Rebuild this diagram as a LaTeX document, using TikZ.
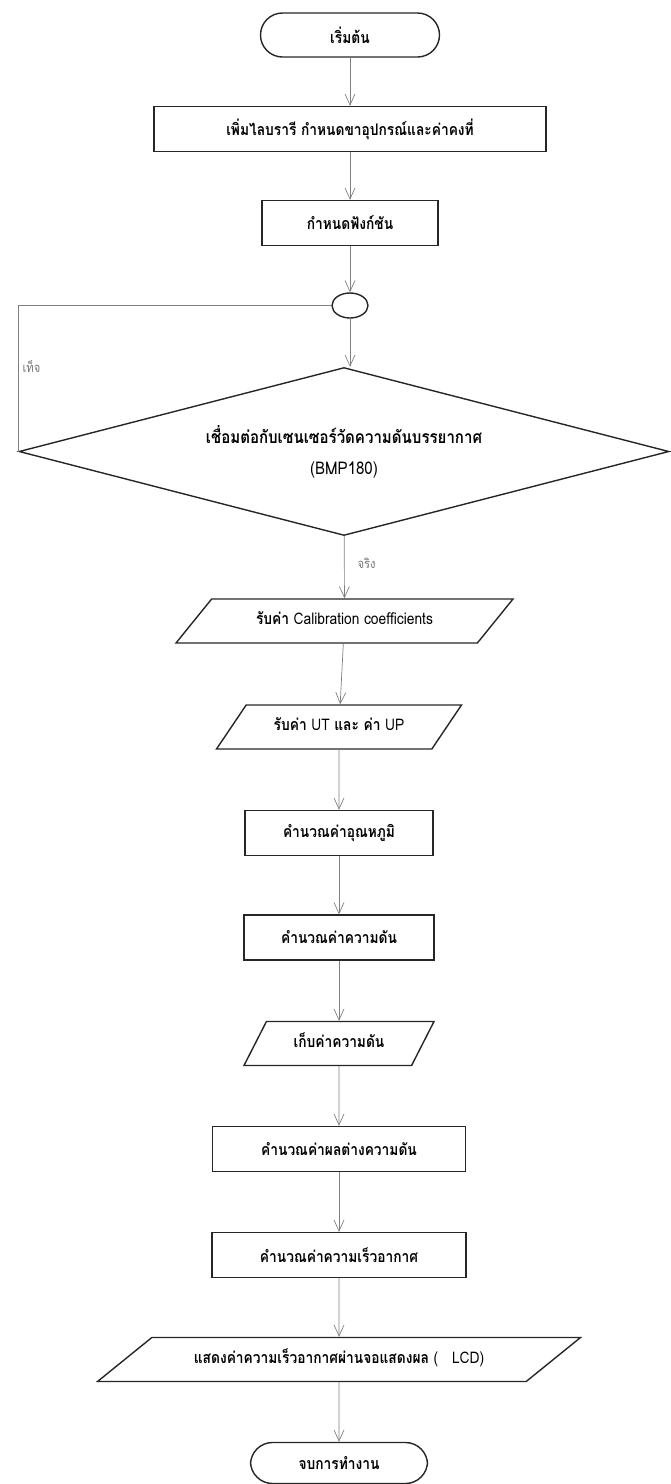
\documentclass[tikz,border=0pt]{standalone}
\usepackage{fontspec}
\newfontfamily\thaifont[Script=Thai,FakeStretch=0.86]{Loma}
\usetikzlibrary{shapes.geometric,arrows.meta}

\begin{document}
\begin{tikzpicture}[x=1pt,y=-1pt]
	\tikzstyle{terminal}=[rectangle,rounded corners=22pt,draw=black!85,line width=1.4pt,inner sep=0pt,minimum height=44pt,font=\thaifont\bfseries\fontsize{16}{19}\selectfont]
	\tikzstyle{process}=[rectangle,draw=black!85,line width=1.4pt,inner sep=0pt,minimum height=45pt,font=\thaifont\bfseries\fontsize{16}{19}\selectfont]
	\tikzstyle{io}=[trapezium,trapezium stretches body,draw=black!85,line width=1.4pt,inner xsep=0pt,inner ysep=14.5pt,text height=11pt,text depth=4pt,font=\thaifont\fontsize{16}{19}\selectfont]
	\tikzstyle{decision}=[diamond,aspect=3.87,draw=black!85,line width=1.4pt,inner sep=0pt,align=center,font=\thaifont\fontsize{17.5}{31}\selectfont]
	\tikzstyle{joint}=[ellipse,draw=black!85,line width=1.4pt,inner sep=0pt,minimum width=36pt,minimum height=25pt]
	\tikzstyle{arrowline}=[draw=black!50,line width=0.7pt,-{Straight Barb[length=11pt,width=10pt]}]
	\tikzstyle{loopline}=[draw=black!50,line width=0.7pt]
	\tikzstyle{answer}=[font=\thaifont\fontsize{13}{15}\selectfont,text=black!55,inner sep=0pt]
	\useasboundingbox (0,0) rectangle (671,1484);
	\begin{scope}
		\node [terminal,minimum width=179pt] (start) at (350,35) {เริ่มต้น};
		\node [process,minimum width=392pt] (setup) at (350,129) {เพิ่มไลบรารี กำหนดขาอุปกรณ์และค่าคงที่};
		\node [process,minimum width=176pt] (funcdef) at (350,223) {กำหนดฟังก์ชัน};
		\node [joint] (joint) at (350,305.5) {};
		\node [decision,minimum width=650pt,minimum height=168pt] (cond) at (344,451.5) {\bfseries เชื่อมต่อกับเซนเซอร์วัดความดันบรรยากาศ\\(BMP180)};
		\node [io,trapezium left angle=51,trapezium right angle=129,minimum width=337pt] (calib) at (344.5,621) {{\bfseries รับค่า} Calibration coefficients};
		\node [io,trapezium left angle=56,trapezium right angle=124,minimum width=245pt] (rawval) at (339,727) {{\bfseries รับค่า} UT {\bfseries และ ค่า} UP};
		\node [process,minimum width=188pt] (calctemp) at (339,833) {คำนวณค่าอุณหภูมิ};
		\node [process,minimum width=190pt] (calcpress) at (339,937.5) {คำนวณค่าความดัน};
		\node [io,trapezium left angle=63,trapezium right angle=117,minimum width=190pt] (store) at (339,1043.5) {\bfseries เก็บค่าความดัน};
		\node [process,minimum width=253pt] (calcdiff) at (339,1149) {คำนวณค่าผลต่างความดัน};
		\node [process,minimum width=254pt] (calcspeed) at (339,1255) {คำนวณค่าความเร็วอากาศ};
		\node [io,trapezium left angle=39,trapezium right angle=141,minimum width=483pt] (display) at (339,1359.5) {{\bfseries แสดงค่าความเร็วอากาศผ่านจอแสดงผล} (\ \ \ LCD)};
		\node [terminal,minimum width=177pt,minimum height=41pt] (finish) at (339,1463) {จบการทำงาน};
		\path[arrowline] (start) edge (setup);
		\path[arrowline] (setup) edge (funcdef);
		\path[arrowline] (funcdef) edge (joint);
		\path[arrowline] (joint) edge (joint |- cond.north);
		\path[loopline] (joint.west) -| node[answer,pos=0.71,right=4pt] {เท็จ} (cond.west);
		\path[arrowline] (cond) edge node[answer,pos=0.43,right=13pt] {จริง} (calib);
		\path[arrowline] (calib) edge (rawval);
		\path[arrowline] (rawval) edge (calctemp);
		\path[arrowline] (calctemp) edge (calcpress);
		\path[arrowline] (calcpress) edge (store);
		\path[arrowline] (store) edge (calcdiff);
		\path[arrowline] (calcdiff) edge (calcspeed);
		\path[arrowline] (calcspeed) edge (display);
		\path[arrowline] (display) edge (finish);
	\end{scope}
\end{tikzpicture}
\end{document}
